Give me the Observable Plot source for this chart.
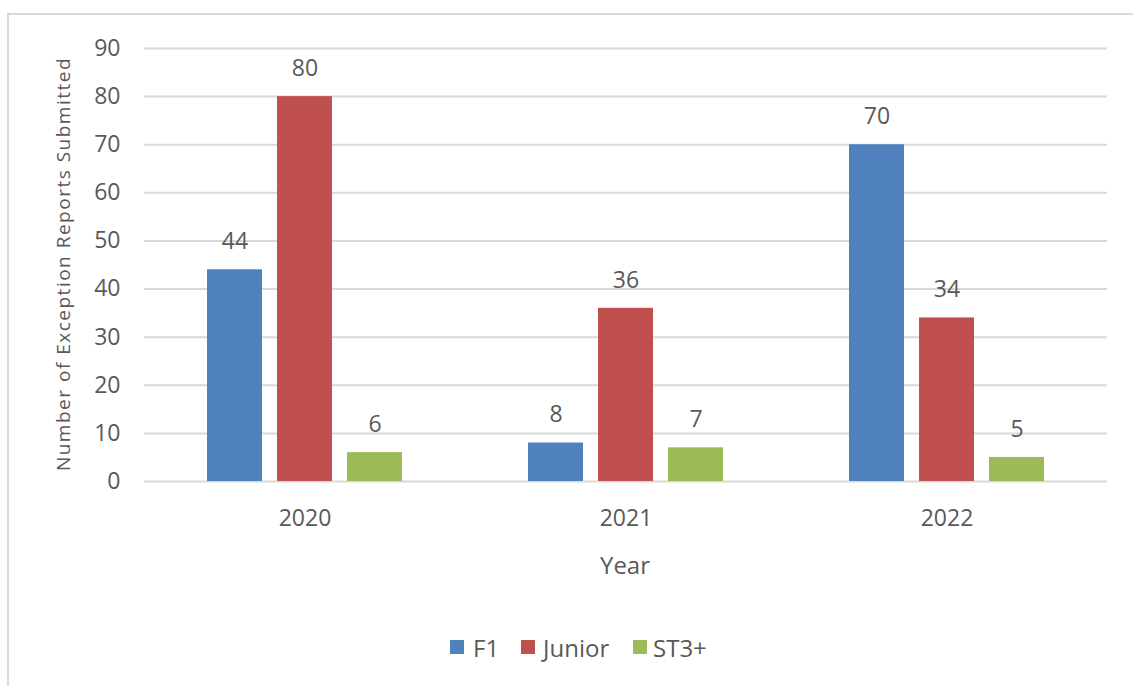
<!DOCTYPE html>
<html>
<head>
<meta charset="utf-8">
<script src="https://cdn.jsdelivr.net/npm/d3@7"></script>
<script src="https://cdn.jsdelivr.net/npm/@observablehq/plot@0.6"></script>
<style>
  html, body { margin: 0; padding: 0; background: #fff; }
  body { width: 1133px; height: 686px; position: relative; overflow: hidden; font-family: "Open Sans", sans-serif; color: #595959; }
  #frame { position: absolute; left: 7px; top: 13px; width: 1200px; height: 800px; border: 2px solid #d9d9d9; box-sizing: border-box; }
  #chart { position: absolute; left: 0; top: 0; }
  .abs { position: absolute; white-space: nowrap; }
  #ytitle { left: 63px; top: 264px; font-size: 19px; letter-spacing: 1.5px; transform: translate(-50%, -50%) rotate(-90deg); }
  #xtitle { left: 625px; top: 564px; font-size: 24px; transform: translate(-50%, -50%); }
  .sw { position: absolute; width: 14px; height: 14px; top: 640px; }
  .lg { position: absolute; top: 647px; font-size: 24px; transform: translateY(-50%); }
</style>
</head>
<body>
<div id="frame"></div>
<div id="chart"></div>
<div id="ytitle" class="abs">Number of Exception Reports Submitted</div>
<div id="xtitle" class="abs">Year</div>
<div id="legend"></div>
<script>
const years = ["2020", "2021", "2022"];
const seriesNames = ["F1", "Junior", "ST3+"];
const f1Values = [44, 8, 70];
const juniorValues = [80, 36, 34];
const st3Values = [6, 7, 5];
const yTicks = [0, 10, 20, 30, 40, 50, 60, 70, 80, 90];
const seriesColors = ["#4F81BD", "#C0504D", "#9BBB59"];

const seriesValues = [f1Values, juniorValues, st3Values];
const rows = [];
years.forEach((yr, i) => {
  seriesNames.forEach((s, j) => {
    rows.push({ year: yr, series: s, value: seriesValues[j][i] });
  });
});

const chart = Plot.plot({
  width: 1133,
  height: 600,
  marginLeft: 143,
  marginRight: 26,
  marginTop: 48,
  marginBottom: 119,
  style: { fontFamily: "'Open Sans', sans-serif", color: "#595959", background: "transparent" },
  fx: { domain: years, padding: 0, label: null },
  x: { domain: seriesNames, paddingInner: 0.211, paddingOuter: 0.868, axis: null },
  y: { domain: [0, 90], label: null },
  color: { domain: seriesNames, range: seriesColors },
  marks: [
    Plot.gridY(yTicks, { stroke: "#d9d9d9", strokeOpacity: 1, strokeWidth: 2 }),
    Plot.axisY(yTicks, { tickSize: 0, tickPadding: 24, fontSize: 23, label: null }),
    Plot.axisFx({ anchor: "bottom", tickSize: 0, tickPadding: 28, fontSize: 23, label: null }),
    Plot.barY(rows, { fx: "year", x: "series", y: "value", fill: "series" }),
    Plot.text(rows, { fx: "year", x: "series", y: "value", text: d => String(d.value), dy: -28, fontSize: 23, fill: "#595959" })
  ]
});
document.getElementById("chart").appendChild(chart);

const legendPos = [[450, 473], [521, 543], [633, 653]];
const legend = document.getElementById("legend");
seriesNames.forEach((s, i) => {
  const sw = document.createElement("div");
  sw.className = "sw";
  sw.style.left = legendPos[i][0] + "px";
  sw.style.background = seriesColors[i];
  legend.appendChild(sw);
  const t = document.createElement("div");
  t.className = "lg";
  t.style.left = legendPos[i][1] + "px";
  t.textContent = s;
  legend.appendChild(t);
});
</script>
</body>
</html>
